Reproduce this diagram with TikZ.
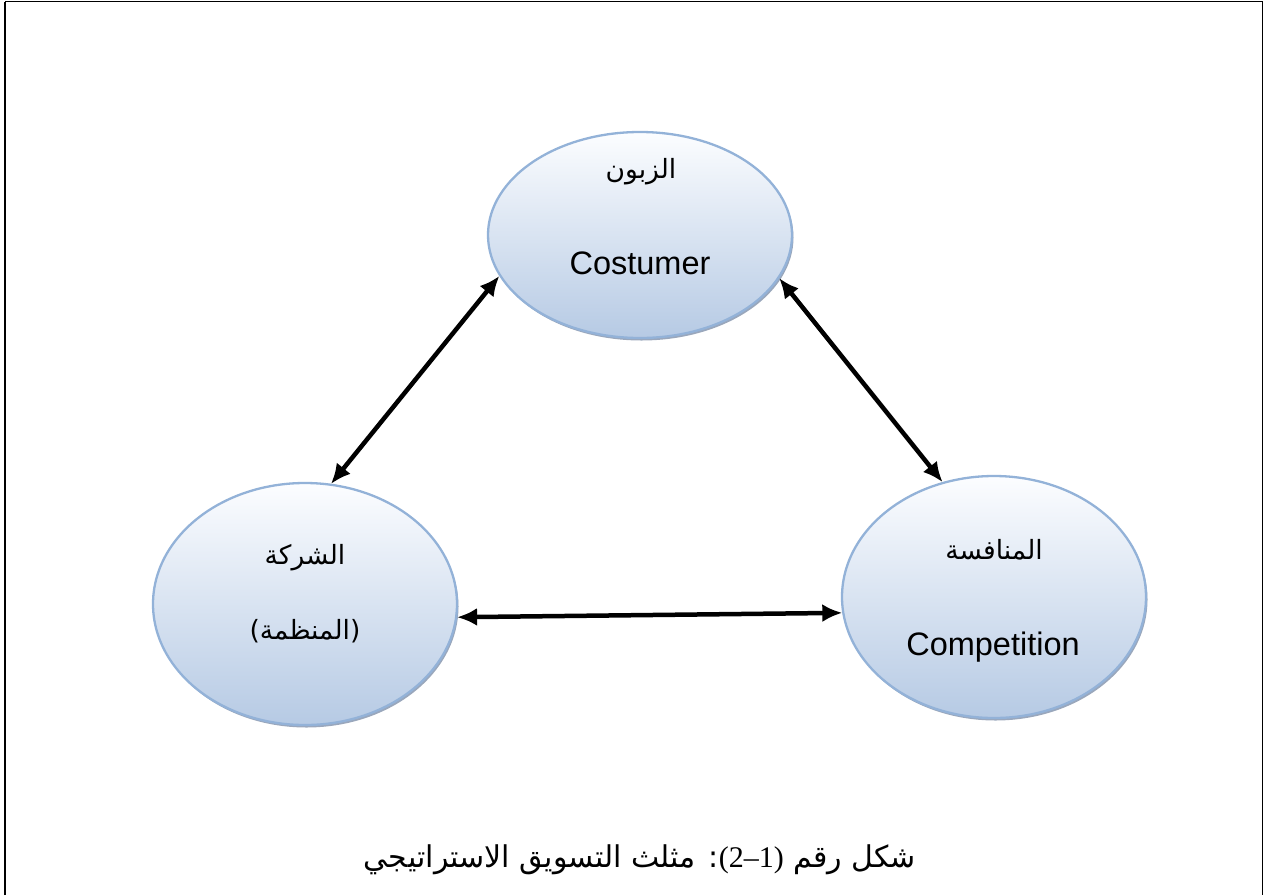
\documentclass[tikz,border=0pt]{standalone}
\usepackage{fontspec}
\setmainfont{Liberation Sans}
\newfontfamily\arabicfont[Script=Arabic]{DejaVu Sans}
\newfontfamily\numfont{Liberation Serif}
\usetikzlibrary{shapes.geometric,shadows,arrows.meta}
\TeXXeTstate=1

\definecolor{bubbletop}{RGB}{252,253,255}
\definecolor{bubblebottom}{RGB}{182,202,228}
\definecolor{bubbleedge}{RGB}{147,178,216}
\definecolor{shadowgray}{RGB}{120,138,165}

\begin{document}
\begin{tikzpicture}[x=1pt,y=-1pt,
  bubble/.style={ellipse, draw=bubbleedge, line width=2.3pt,
    top color=bubbletop, bottom color=bubblebottom,
    minimum width=304pt, inner sep=0pt, outer sep=0pt,
    drop shadow={shadow xshift=1.5pt, shadow yshift=-2.5pt,
      fill=shadowgray, opacity=0.75}},
  latin/.style={font=\fontsize{32.5}{38}\selectfont},
  arab/.style={font=\arabicfont\fontsize{26.5}{32}\selectfont},
  link/.style={{Latex[length=20pt,width=18pt]}-{Latex[length=20pt,width=18pt]},
    line width=4.5pt, black, shorten <=1pt, shorten >=1pt}]

\useasboundingbox (0,0) rectangle (1264,895);

% page frame
\draw[line width=2.5pt] (5,895) -- (5,1.5);
\draw[line width=1pt] (5,1.5) -- (1262.8,1.5) -- (1262.8,895);

% the three parties
\node[bubble, minimum height=206pt] (cust) at (640,235) {};
\node[bubble, minimum height=242pt] (firm) at (305,604) {};
\node[bubble, minimum height=242pt] (comp) at (994,597) {};

% labels
\node[arab]  (custar) at (641,172) {الزبون};
\node[latin] (custen) at (640,263) {Costumer};
\node[arab]  (firmar) at (305,558) {الشركة};
\node[arab]  (firmar2) at (305,631) {(المنظمة)};
\node[arab]  (compar) at (994,550) {المنافسة};
\node[latin] (compen) at (993,647) {Competition};

% two-way relations
\draw[link] (cust.196) -- (firm.78);
\draw[link] (cust.-17) -- (comp.114);
\draw[link] (firm.-5) -- (comp.186);

% caption, set right to left with the figure number left to right
\node[font=\arabicfont\fontsize{30}{36}\selectfont] (caption) at (640,860)
  {\beginR شكل رقم \beginL{\numfont(2–1)}\endL: مثلث التسويق الاستراتيجي\endR};
\end{tikzpicture}
\end{document}
